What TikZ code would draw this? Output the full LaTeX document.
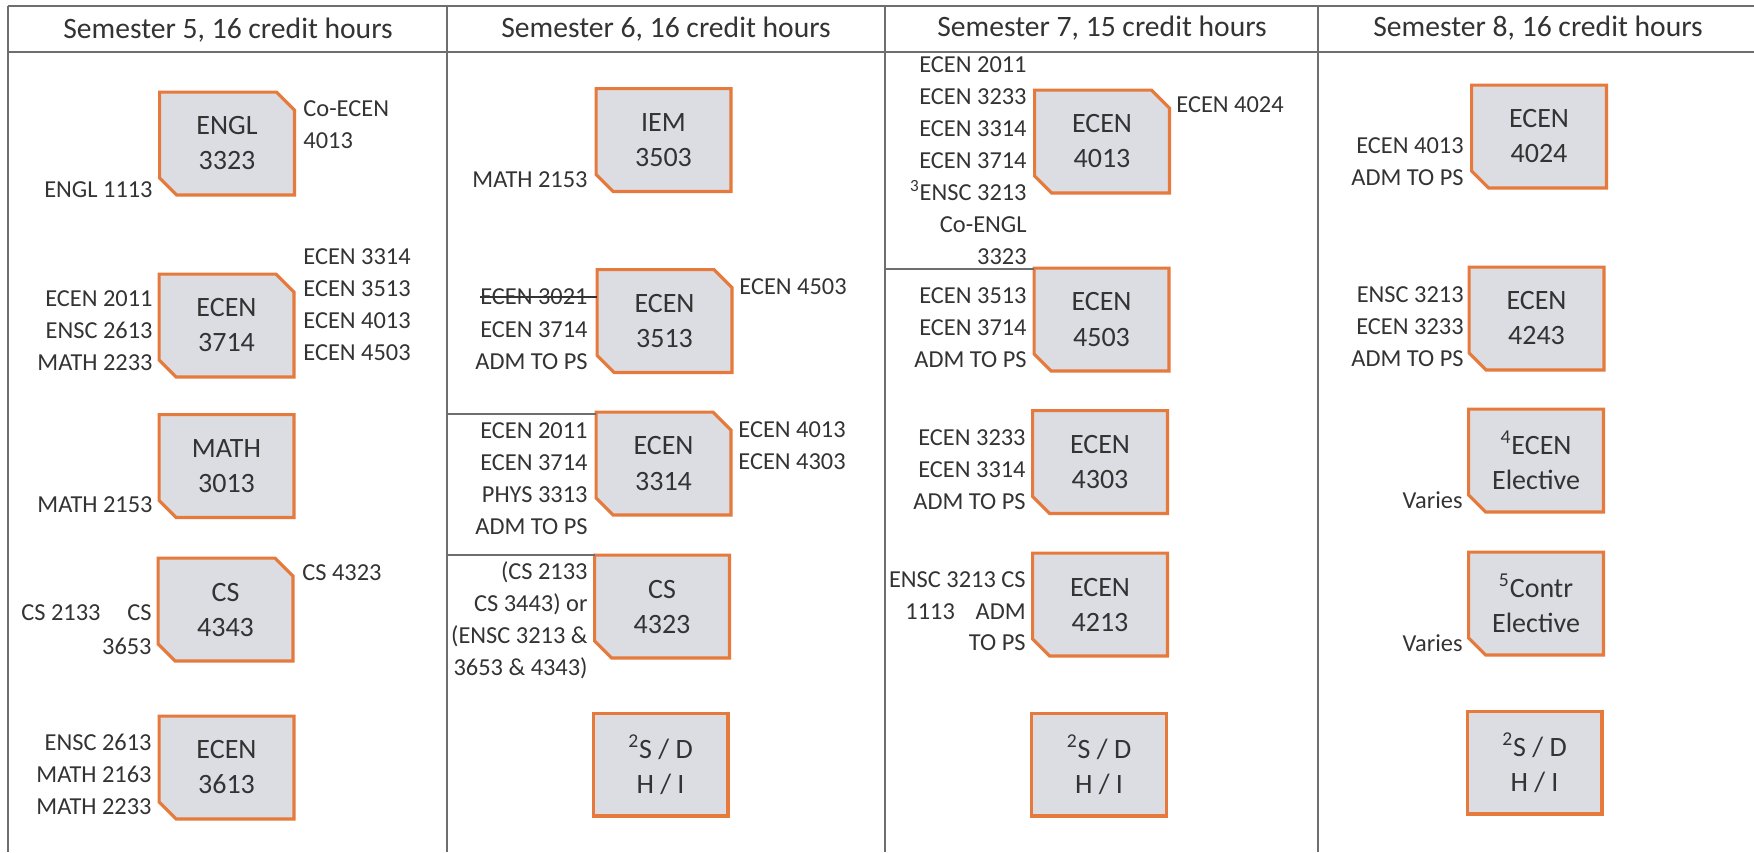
\documentclass[tikz,border=0pt]{standalone}
\usepackage{fontspec}
\setmainfont{Carlito}
\usetikzlibrary{backgrounds}
\definecolor{boxorange}{HTML}{E57A3C}
\definecolor{boxfill}{HTML}{DCDCE3}
\definecolor{txt}{HTML}{333333}
\definecolor{gridc}{HTML}{6E6E6E}
\tikzset{
  course/.style={minimum width=67pt, minimum height=51pt, inner sep=0pt, align=center,
    font=\fontsize{14}{17.5}\selectfont, text=txt},
  lbl/.style={inner sep=0pt, font=\fontsize{12.2}{16}\selectfont, text=txt},
  lblL/.style={lbl, anchor=east, align=right},
  lblR/.style={lbl, anchor=west, align=left},
  hdr/.style={inner sep=0pt, font=\fontsize{14.8}{17}\selectfont, text=txt},
  gridline/.style={draw=gridc, line width=0.75pt},
  strike/.style={draw=txt, line width=0.6pt},
  outline/.style={draw=boxorange, fill=boxfill, line width=1.6pt, line join=miter},
}
\newcommand\crsPlain[1]{\path[outline] (#1.north west) rectangle (#1.south east);}
\newcommand\crsBL[1]{\path[outline] (#1.north west) -- (#1.north east) -- (#1.south east)
  -- ([xshift=8.5pt]#1.south west) -- ([yshift=8.5pt]#1.south west) -- cycle;}
\newcommand\crsBoth[1]{\path[outline] (#1.north west) -- ([xshift=-9pt]#1.north east)
  -- ([yshift=-9pt]#1.north east) -- (#1.south east)
  -- ([xshift=8.5pt]#1.south west) -- ([yshift=8.5pt]#1.south west) -- cycle;}
\begin{document}
\begin{tikzpicture}[x=0.5pt,y=-0.5pt]
\useasboundingbox (0,0) rectangle (1754,852);
% table grid
\coordinate (tl) at (8,6);
\coordinate (tr) at (1754,6);
\coordinate (hl) at (8,52);
\coordinate (hr) at (1754,52);
\draw[gridline] (tl) -- (tr);
\draw[gridline] (hl) -- (hr);
\draw[gridline] (tl) -- (8,852);
\draw[gridline] (447,6) -- (447,852);
\draw[gridline] (885,6) -- (885,852);
\draw[gridline] (1318,6) -- (1318,852);

% headers
\node[hdr] (h5) at (228,30) {Semester 5, 16 credit hours};
\node[hdr] (h6) at (666,29) {Semester 6, 16 credit hours};
\node[hdr] (h7) at (1102,28) {Semester 7, 15 credit hours};
\node[hdr] (h8) at (1538,28) {Semester 8, 16 credit hours};

% ---------- Semester 5 ----------
\node[course] (engl3323) at (227,143.5) {ENGL\\3323};
\node[course] (ecen3714) at (226.5,325.5) {ECEN\\3714};
\node[course] (math3013) at (226.5,466) {MATH\\3013};
\node[course] (cs4343) at (225.5,609.5) {CS\\4343};
\node[course] (ecen3613) at (226.5,767.5) {ECEN\\3613};

\node[lblL] (p5a) at (153,190) {ENGL 1113};
\node[lblR] (q5a) at (303,125) {Co-ECEN\\4013};
\node[lblL] (p5b) at (153,330.5) {ECEN 2011\\ENSC 2613\\MATH 2233};
\node[lblR] (q5b) at (303,305) {ECEN 3314\\ECEN 3513\\ECEN 4013\\ECEN 4503};
\node[lblL] (p5c) at (153,505) {MATH 2153};
\node[lbl, anchor=west] (p5d1) at (21,613) {CS 2133};
\node[lbl, anchor=east] (p5d2) at (152,613) {CS};
\node[lbl, anchor=east] (p5d3) at (152,646) {3653};
\node[lblR] (q5d) at (302,573) {CS 4323};
\node[lblL] (p5e) at (152,774) {ENSC 2613\\MATH 2163\\MATH 2233};

% ---------- Semester 6 ----------
\node[course] (iem3503) at (663.5,140) {IEM\\3503};
\node[course] (ecen3513) at (664.5,321) {ECEN\\3513};
\node[course] (ecen3314) at (663.5,463.5) {ECEN\\3314};
\node[course] (cs4323) at (662,606.5) {CS\\4323};
\node[course] (sdhi6) at (660.5,764.5) {\textsuperscript{2}S / D\\H / I};

\node[lblL] (p6a) at (588,180) {MATH 2153};
\node[lblL] (p6b1) at (588,297) {ECEN 3021};
\draw[strike] (p6b1.west) -- (p6b1.west -| ecen3513.west);
\node[lblL] (p6b2) at (588,345.5) {ECEN 3714\\ADM TO PS};
\node[lblR] (q6b) at (739,287) {ECEN 4503};
\node[lblL] (p6c) at (588,478.5) {ECEN 2011\\ECEN 3714\\PHYS 3313\\ADM TO PS};
\node[lblR] (q6c) at (738,445.5) {ECEN 4013\\ECEN 4303};
\node[lblL] (p6d) at (588,620) {(CS 2133\\CS 3443) or\\(ENSC 3213 \&\\3653 \& 4343)};
\coordinate (c6l1) at (447,414);
\coordinate (c6l2) at (447,555);
\draw[gridline] (c6l1) -- (c6l1 -| ecen3314.west);
\draw[gridline] (c6l2) -- (c6l2 -| cs4323.west);

% ---------- Semester 7 ----------
\node[course] (ecen4013) at (1102,141.5) {ECEN\\4013};
\node[course] (ecen4503) at (1101.5,319.5) {ECEN\\4503};
\node[course] (ecen4303) at (1100,462) {ECEN\\4303};
\node[course] (ecen4213) at (1100,604.5) {ECEN\\4213};
\node[course] (sdhi7) at (1099,764.5) {\textsuperscript{2}S / D\\H / I};

\node[lblL] (p7a) at (1027,160.5) {ECEN 2011\\ECEN 3233\\ECEN 3314\\ECEN 3714\\\textsuperscript{3}ENSC 3213\\Co-ENGL\\3323};
\node[lblR] (q7a) at (1176,105) {ECEN 4024};
\coordinate (c7l1) at (885,269);
\draw[gridline] (c7l1) -- (c7l1 -| ecen4503.west);
\node[lblL] (p7b) at (1027,328) {ECEN 3513\\ECEN 3714\\ADM TO PS};
\node[lblL] (p7c) at (1026,469.5) {ECEN 3233\\ECEN 3314\\ADM TO PS};
\node[lbl, anchor=east] (p7d1) at (1026,580) {ENSC 3213 CS};
\node[lbl, anchor=west] (p7d2) at (905,612) {1113};
\node[lbl, anchor=east] (p7d3) at (1026,612) {ADM};
\node[lbl, anchor=east] (p7d4) at (1026,643) {TO PS};

% ---------- Semester 8 ----------
\node[course] (ecen4024) at (1539,136.5) {ECEN\\4024};
\node[course] (ecen4243) at (1536.5,318.5) {ECEN\\4243};
\node[course] (elec4) at (1536,460.5) {\textsuperscript{4}ECEN\\Elective};
\node[course] (elec5) at (1536,603.5) {\textsuperscript{5}Contr\\Elective};
\node[course] (sdhi8) at (1534.5,762.5) {\textsuperscript{2}S / D\\H / I};

\node[lblL] (p8a) at (1464,161.5) {ECEN 4013\\ADM TO PS};
\node[lblL] (p8b) at (1464,326.5) {ENSC 3213\\ECEN 3233\\ADM TO PS};
\node[lblL] (p8c) at (1463,500) {Varies};
\node[lblL] (p8d) at (1463,643) {Varies};

% box outlines behind the texts
\begin{scope}[on background layer]
\crsBoth{engl3323}
\crsBoth{ecen3714}
\crsBL{math3013}
\crsBoth{cs4343}
\crsBL{ecen3613}
\crsBL{iem3503}
\crsBoth{ecen3513}
\crsBoth{ecen3314}
\crsBL{cs4323}
\crsPlain{sdhi6}
\crsBoth{ecen4013}
\crsBL{ecen4503}
\crsBL{ecen4303}
\crsBL{ecen4213}
\crsPlain{sdhi7}
\crsBL{ecen4024}
\crsBL{ecen4243}
\crsBL{elec4}
\crsBL{elec5}
\crsPlain{sdhi8}
\end{scope}
\end{tikzpicture}
\end{document}
